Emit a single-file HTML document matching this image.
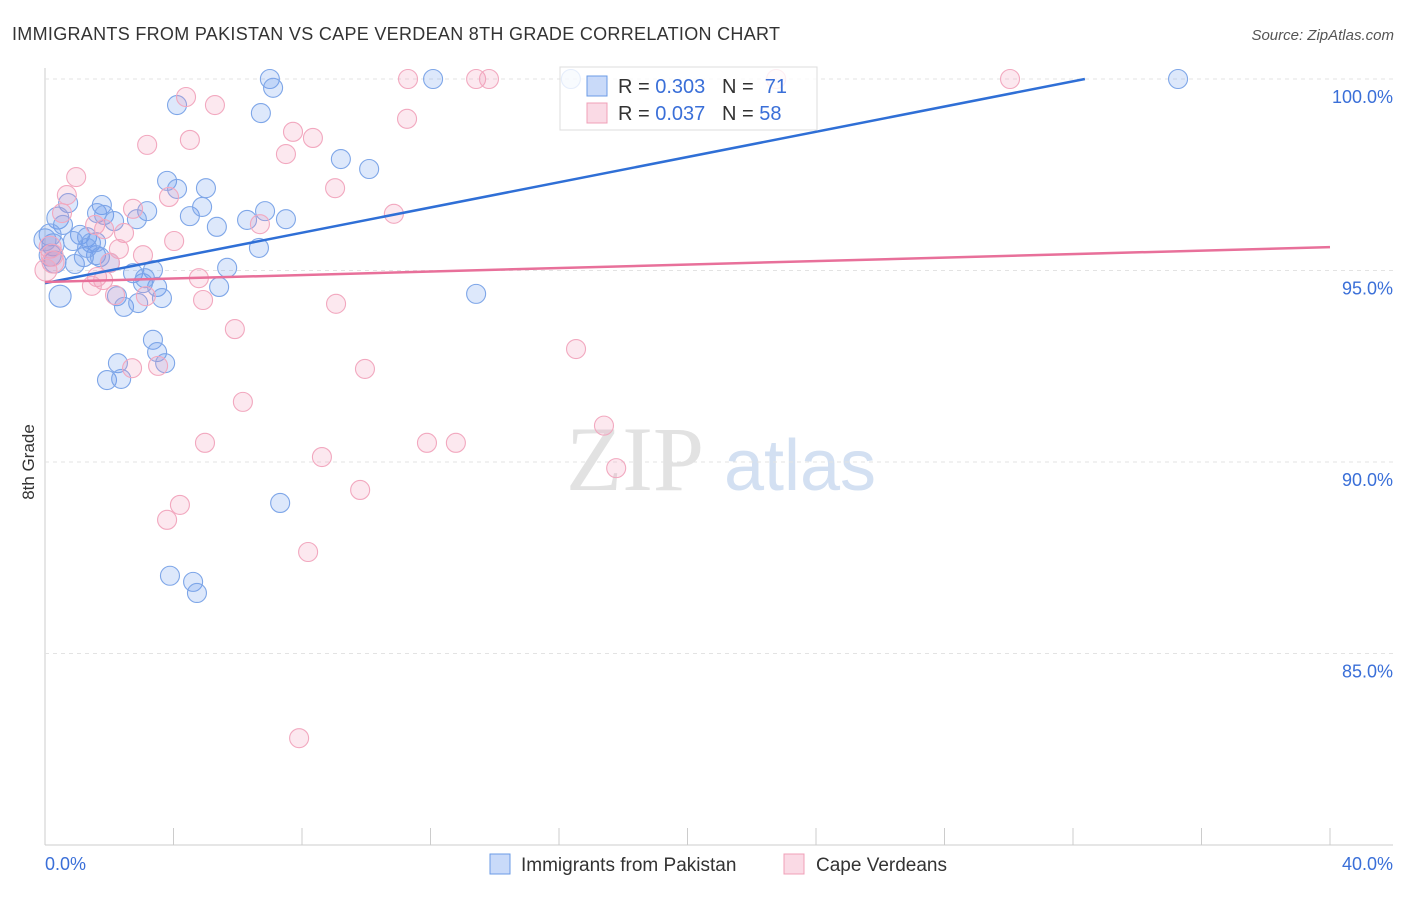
<!DOCTYPE html>
<html><head><meta charset="utf-8"><style>
body{margin:0;background:#fff;font-family:"Liberation Sans",sans-serif}
</style></head><body>
<svg id="c" width="1406" height="892" xmlns="http://www.w3.org/2000/svg">
<text x="12" y="40" font-size="18" fill="#333" textLength="768">IMMIGRANTS FROM PAKISTAN VS CAPE VERDEAN 8TH GRADE CORRELATION CHART</text>
<text x="1394" y="40" font-size="15" fill="#555" font-style="italic" text-anchor="end">Source: ZipAtlas.com</text>
<text x="34" y="462" font-size="17" fill="#333" transform="rotate(-90 34 462)" text-anchor="middle">8th Grade</text>
<g><text x="635" y="490" font-size="92" fill="#e2e2e2" font-family="Liberation Serif" text-anchor="middle">ZIP</text><text x="800" y="490" font-size="72" fill="#d3e0f2" text-anchor="middle">atlas</text></g>
<g id="grid"></g><g id="pts"></g><g id="lines"></g>
<g>
<rect x="560" y="67" width="257" height="63" fill="rgba(255,255,255,0.8)" stroke="#ddd"/>
<rect x="587" y="76" width="20" height="20" fill="rgba(100,149,237,0.35)" stroke="#6b9be6"/>
<text x="618" y="93" font-size="20" fill="#333" xml:space="preserve">R = <tspan fill="#3a6fd8">0.303</tspan>   N =  <tspan fill="#3a6fd8">71</tspan></text>
<rect x="587" y="103" width="20" height="20" fill="rgba(240,150,180,0.35)" stroke="#f0a0b8"/>
<text x="618" y="120" font-size="20" fill="#333" xml:space="preserve">R = <tspan fill="#3a6fd8">0.037</tspan>   N = <tspan fill="#3a6fd8">58</tspan></text>
</g>
<g>
<rect x="490" y="854" width="20" height="20" fill="rgba(100,149,237,0.35)" stroke="#6b9be6"/>
<text x="521" y="871" font-size="19" fill="#333">Immigrants from Pakistan</text>
<rect x="784" y="854" width="20" height="20" fill="rgba(240,150,180,0.35)" stroke="#f0a0b8"/>
<text x="816" y="871" font-size="19" fill="#333">Cape Verdeans</text>
</g>
<text x="45" y="870" font-size="18" fill="#3a6fd8">0.0%</text>
<text x="1393" y="870" font-size="18" fill="#3a6fd8" text-anchor="end">40.0%</text>
</svg>
<script>
const yTicks=[100,95,90,85];
const xTicks=[0,4,8,12,16,20,24,28,32,36,40];
const blueX=[16.37,7.0,12.08,35.27,7.10,4.11,6.72,9.21,10.09,3.80,4.11,5.01,0.72,0.40,1.77,1.62,1.84,2.15,3.18,2.86,4.51,4.89,5.35,6.29,6.85,7.50,0.56,0.16,1.09,1.31,0.87,1.43,1.59,0.25,0.31,0.93,1.21,1.71,2.02,2.74,3.36,3.05,3.49,5.42,5.67,6.66,0.47,2.24,2.46,2.90,3.64,3.36,3.49,3.74,2.27,1.93,2.37,13.42,7.32,3.89,4.61,4.73,0.16,0,3.11,1.59,1.31];
const blueY=[100,100,100,100,99.77,99.32,99.11,97.91,97.65,97.34,97.13,97.15,96.76,96.37,96.71,96.50,96.45,96.29,96.55,96.34,96.42,96.66,96.14,96.32,96.55,96.34,96.19,95.93,95.93,95.87,95.77,95.72,95.40,95.67,95.22,95.17,95.35,95.35,95.20,94.93,95.01,94.67,94.57,94.57,95.07,95.59,94.33,94.33,94.05,94.15,94.28,93.19,92.87,92.58,92.58,92.14,92.17,94.39,88.93,87.03,86.87,86.58,95.40,95.80,94.80,95.74,95.59];
const pinkX=[11.30,13.42,13.82,22.76,30.04,4.39,5.29,11.27,7.72,8.34,4.51,3.18,7.50,0.97,9.03,0.68,3.86,2.74,10.86,0.53,6.69,2.46,1.56,1.84,4.02,2.30,3.05,0.16,0.25,2.02,1.62,1.81,4.79,1.46,3.14,4.92,9.06,5.91,16.53,9.96,2.71,3.52,6.16,17.40,4.98,11.89,12.79,8.62,17.78,9.81,4.20,3.80,8.19,7.91,0.22,0.03,2.18];
const pinkY=[100,100,100,100,100,99.53,99.32,98.96,98.62,98.46,98.41,98.28,98.04,97.44,97.15,96.97,96.92,96.61,96.48,96.50,96.21,95.98,96.19,96.08,95.77,95.56,95.40,95.61,95.22,95.20,94.83,94.75,94.80,94.60,94.33,94.23,94.13,93.47,92.95,92.43,92.45,92.51,91.57,90.95,90.50,90.50,90.50,90.13,89.84,89.27,88.88,88.49,87.65,82.79,95.40,95.01,94.36];
const blueLine=[[0,94.67],[32.37,100]];
const pinkLine=[[0,94.7],[40,95.61]];
const NS='http://www.w3.org/2000/svg';
const X=v=>45+v/40*1285, Y=v=>79+(100-v)*38.3;
function mk(t,a,p){const e=document.createElementNS(NS,t);for(const k in a)e.setAttribute(k,a[k]);p.appendChild(e);return e;}
const grid=document.getElementById('grid');
mk('line',{x1:45,y1:68,x2:45,y2:845,stroke:'#ccc'},grid);
mk('line',{x1:45,y1:845,x2:1393,y2:845,stroke:'#ccc'},grid);
yTicks.forEach(t=>{const l=mk('line',{x1:45,y1:Y(t),x2:1393,y2:Y(t),stroke:'#e3e3e3','stroke-dasharray':'4 4'},grid);


const tx=mk('text',{x:1393,y:Y(t)+24,'font-size':18,fill:'#3a6fd8','text-anchor':'end'},grid);tx.textContent=t.toFixed(1)+'%';

});
xTicks.forEach(t=>{const l=mk('line',{x1:X(t),y1:828,x2:X(t),y2:845,stroke:'#ccc'},grid);

});
const pts=document.getElementById('pts');
function draw(xs,ys,fill,stroke,name){xs.forEach((x,i)=>{const c=mk('circle',{cx:X(x),cy:Y(ys[i]),r:x<0.5?11:9.5,fill:fill,stroke:stroke,'stroke-width':1.1},pts);

});}
draw(blueX,blueY,'rgba(100,149,237,0.22)','#7ea6e8','pakistan-point');
draw(pinkX,pinkY,'rgba(240,150,180,0.22)','#f2a8bf','cape-verdean-point');
const lines=document.getElementById('lines');
const bl=mk('line',{x1:X(blueLine[0][0]),y1:Y(blueLine[0][1]),x2:X(blueLine[1][0]),y2:Y(blueLine[1][1]),stroke:'#2f6fd6','stroke-width':2.5},lines);


const pl=mk('line',{x1:X(pinkLine[0][0]),y1:Y(pinkLine[0][1]),x2:X(pinkLine[1][0]),y2:Y(pinkLine[1][1]),stroke:'#e8709a','stroke-width':2.5},lines);


</script>
</body></html>
